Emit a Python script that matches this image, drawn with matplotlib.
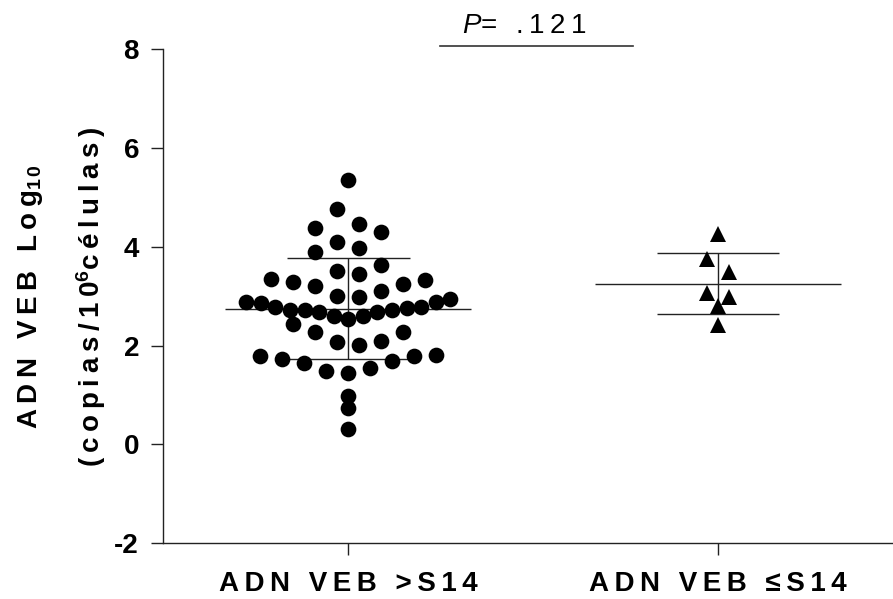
import numpy as np
import matplotlib.pyplot as plt

plt.rcParams['font.family'] = ['Liberation Sans', 'DejaVu Sans']
plt.rcParams['mathtext.fontset'] = 'custom'
plt.rcParams['mathtext.rm'] = 'Liberation Sans:bold'
plt.rcParams['mathtext.bf'] = 'Liberation Sans:bold'
plt.rcParams['mathtext.it'] = 'Liberation Sans:italic'

# EBV DNA load, log10 copies per 10^6 cells
ebv_above_s14 = [5.34, 4.76, 4.46, 4.38, 4.29, 4.10, 3.98, 3.90, 3.64, 3.51,
                 3.45, 3.35, 3.33, 3.28, 3.25, 3.21, 3.11, 3.00, 2.99, 2.94,
                 2.89, 2.88, 2.86, 2.79, 2.78, 2.77, 2.72, 2.72, 2.72, 2.68,
                 2.68, 2.60, 2.59, 2.53, 2.43, 2.28, 2.27, 2.10, 2.08, 2.02,
                 1.80, 1.79, 1.78, 1.73, 1.68, 1.65, 1.55, 1.48, 1.45, 0.97,
                 0.73, 0.32]
ebv_le_s14 = [4.25, 3.76, 3.49, 3.06, 2.98, 2.80, 2.42]

group_names = ["ADN VEB >S14", "ADN VEB \u2264S14"]
p_value = ".121"


def spaced(s):
    # poor man's letter spacing
    return "\u2009".join(s)


def row_scatter(values, bin_width=0.5, origin=0.45, step=22.0, max_half=102.0):
    # Prism-style scatter: values are binned into rows, each row is spread
    # sideways from the centre, lowest value inside, alternating right/left.
    # Offsets are returned in pixels.
    vals = np.asarray(values, dtype=float)
    offs = np.zeros(len(vals))
    rows = np.floor((vals - origin) / bin_width).astype(int)
    for r in np.unique(rows):
        idx = np.where(rows == r)[0]
        idx = idx[np.argsort(vals[idx], kind='stable')]
        n = len(idx)
        if n == 1:
            continue
        s = min(step, 2 * max_half / (n - 1))
        for k, i in enumerate(idx):
            if n % 2:
                mag = (k + 1) // 2
            else:
                mag = k // 2 + 0.5
            sign = 1 if k % 2 == 0 else -1
            offs[i] = sign * mag * s
    return offs


fig = plt.figure(figsize=(8.93, 5.99), dpi=100)
ax = fig.add_axes([163.45 / 893, (599 - 543.3) / 599, 739.4 / 893, 494.3 / 599])
ax.set_xlim(0.5, 2.5)
ax.set_ylim(-2, 8)

# pixels per data unit along x, for the sideways spread
p0 = ax.transData.transform((0, 0))
p1 = ax.transData.transform((1, 1))
px_x = p1[0] - p0[0]

groups = [ebv_above_s14, ebv_le_s14]
markers = ['o', '^']
sizes = [11.3, 12]
for k, vals in enumerate(groups):
    center = k + 1
    offs = row_scatter(vals) / px_x
    ax.plot(center + offs, vals, linestyle='none', marker=markers[k],
            markersize=sizes[k], color='black', markeredgewidth=0, zorder=3)

    m = np.mean(vals)
    sd = np.std(vals, ddof=1)
    ax.hlines(m, center - 0.333, center + 0.333, color='#222222', lw=1.0, zorder=2)
    ax.hlines([m - sd, m + sd], center - 0.166, center + 0.166,
              color='#222222', lw=1.0, zorder=2)
    ax.vlines(center, m - sd, m + sd, color='#222222', lw=1.0, zorder=2)

# comparison bar with p value
ax.plot([1.248, 1.769], [8.07, 8.07], color='#333333', lw=1.2, clip_on=False)
p_text = "$\\mathit{P}$=\u2009 \u2009" + spaced(p_value)
ax.text(1.477, 8.32, p_text, ha='center', va='baseline', fontsize=20, clip_on=False)

for side in ['top', 'right']:
    ax.spines[side].set_visible(False)
for side in ['left', 'bottom']:
    ax.spines[side].set_linewidth(1.0)
    ax.spines[side].set_color('#222222')

ax.set_yticks(np.arange(-2, 9, 2))
ax.set_yticklabels([str(v) for v in range(-2, 9, 2)], fontsize=20, fontweight='bold')
ax.set_xticks([1, 2])
ax.set_xticklabels([spaced(s) for s in group_names], fontsize=20, fontweight='bold')
ax.tick_params(axis='y', length=8.6, width=1.0, pad=9, color='#222222')
ax.tick_params(axis='x', length=8.6, width=1.0, pad=11, color='#222222')

line1 = spaced("ADN VEB Log") + "$_{\\mathrm{1\\,0}}$"
line2 = spaced("(copias/10") + "$^{\\mathrm{6}}$" + spaced("células)")
fig.text(31 / 893, (599 - 297) / 599, line1, rotation=90, ha='center', va='center',
         fontsize=20, fontweight='bold')
fig.text(91 / 893, (599 - 297) / 599, line2, rotation=90, ha='center', va='center',
         fontsize=20, fontweight='bold')

fig.savefig("out.png", dpi=100)
